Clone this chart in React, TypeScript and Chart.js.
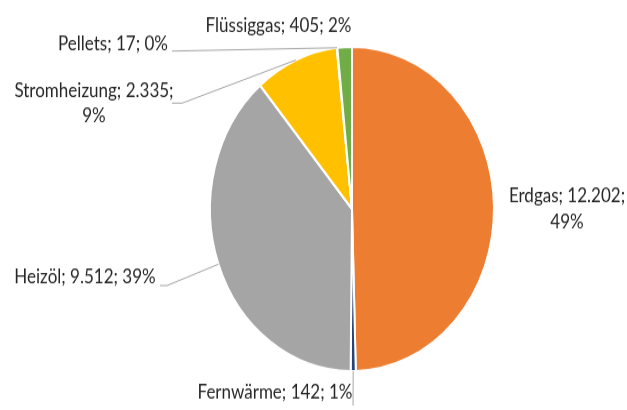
import React, { useEffect, useRef } from "react";
import { Chart, registerables } from "chart.js";

Chart.register(...registerables);

const categories = ["Erdgas", "Fernwärme", "Heizöl", "Stromheizung", "Pellets", "Flüssiggas"];
const values = [12202, 142, 9512, 2335, 17, 405];
const percentLabels = ["49%", "1%", "39%", "9%", "0%", "2%"];
const colors = ["#ED7D31", "#264478", "#A5A5A5", "#FFC000", "#5B9BD5", "#70AD47"];

// layout (canvas units, before vertical stretch)
const W = 627;
const H = 359;
const FONT = "17px Lato";
type LabelLayout = {
  x: number;
  baselines: number[];
  split: boolean;
  leader?: { textEnd: [number, number]; elbow?: [number, number] };
};
const labelLayout: LabelLayout[] = [
  { x: 567, baselines: [177, 200], split: true },
  { x: 275, baselines: [349], split: false, leader: { textEnd: [353, 355] } },
  { x: 85, baselines: [248], split: false, leader: { textEnd: [160, 250], elbow: [167, 250] } },
  { x: 94, baselines: [85, 107], split: true, leader: { textEnd: [172, 90.3], elbow: [182, 90.3] } },
  { x: 113, baselines: [43.8], split: false, leader: { textEnd: [172, 44.7] } },
  { x: 278.5, baselines: [28], split: false },
];

const fmt = (n: number) => String(n).replace(/\B(?=(\d{3})+(?!\d))/g, ".");

const labelPlugin = {
  id: "pieLabels",
  afterDatasetsDraw(chart: any) {
    const ctx = chart.ctx as CanvasRenderingContext2D;
    const meta = chart.getDatasetMeta(0);
    ctx.save();
    meta.data.forEach((arc: any, i: number) => {
      const lay = labelLayout[i];
      const { x, y, startAngle, endAngle, outerRadius } = arc.getProps(
        ["x", "y", "startAngle", "endAngle", "outerRadius"],
        true
      );
      const mid = (startAngle + endAngle) / 2;
      const px = x + Math.cos(mid) * outerRadius;
      const py = y + Math.sin(mid) * outerRadius;
      if (lay.leader) {
        ctx.strokeStyle = "#A6A6A6";
        ctx.lineWidth = 1;
        ctx.beginPath();
        ctx.moveTo(lay.leader.textEnd[0], lay.leader.textEnd[1]);
        if (lay.leader.elbow) ctx.lineTo(lay.leader.elbow[0], lay.leader.elbow[1]);
        ctx.lineTo(px, py);
        ctx.stroke();
      }
      const head = `${categories[i]}; ${fmt(values[i])};`;
      const lines = lay.split ? [head, percentLabels[i]] : [`${head} ${percentLabels[i]}`];
      ctx.font = FONT;
      ctx.fillStyle = "#262626";
      ctx.textAlign = "center";
      ctx.textBaseline = "alphabetic";
      lines.forEach((t, k) => ctx.fillText(t, lay.x, lay.baselines[k]));
    });
    ctx.restore();
  },
};

export default function App() {
  const ref = useRef<HTMLCanvasElement>(null);
  useEffect(() => {
    const canvas = ref.current!;
    const chart = new Chart(canvas, {
      type: "pie",
      data: {
        labels: categories,
        datasets: [
          {
            data: values,
            backgroundColor: colors,
            borderColor: "#FFFFFF",
            borderWidth: 2,
            hoverBorderWidth: 2,
            hoverOffset: 0,
            offset: 0,
          },
        ],
      },
      options: {
        responsive: false,
        animation: false,
        devicePixelRatio: 1,
        layout: { padding: { left: 209, right: 132, top: 40, bottom: 33 } },
        plugins: { legend: { display: false }, tooltip: { enabled: false } },
        events: [],
      },
      plugins: [labelPlugin],
    });
    return () => chart.destroy();
  }, []);
  return (
    <div style={{ position: "absolute", left: 0, top: 0, width: 627, height: 410, background: "#fff" }}>
      <canvas
        ref={ref}
        width={W}
        height={H}
        style={{ display: "block", width: "627px", height: "410px" }}
      />
    </div>
  );
}
